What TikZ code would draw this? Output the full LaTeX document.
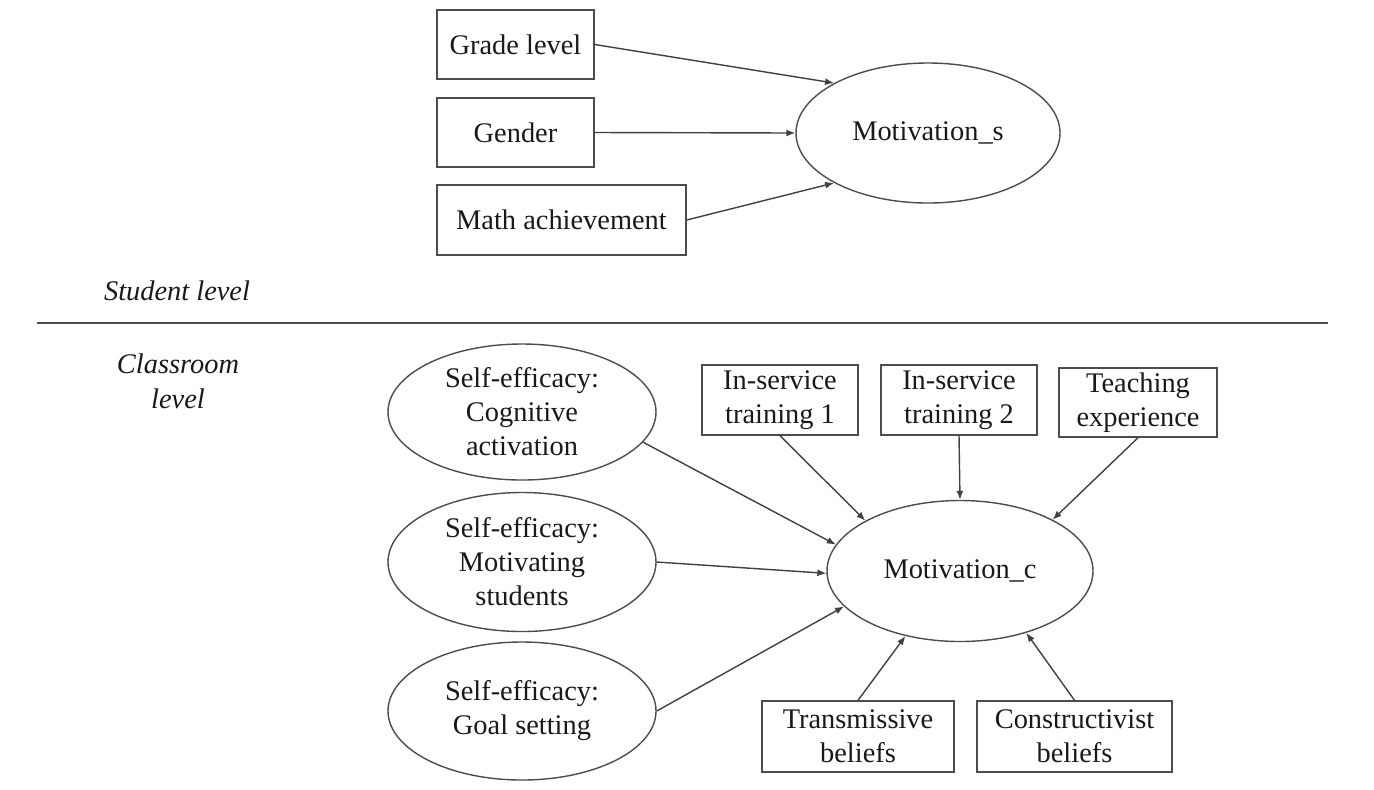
\documentclass[tikz,border=0pt]{standalone}
\usepackage{fontspec}
\setmainfont{Liberation Serif}
\usetikzlibrary{shapes.geometric,arrows.meta}
\begin{document}
\begin{tikzpicture}[x=0.5pt,y=-0.5pt,
  every node/.style={font=\fontsize{14.2}{17}\selectfont, text=black!90},
  boxnode/.style={draw=black!70, line width=0.7pt, rectangle, inner sep=0pt, align=center},
  ellnode/.style={draw=black!70, line width=0.7pt, ellipse, inner sep=0pt},
  conn/.style={draw=black!75, line width=0.7pt, -{Latex[length=4.5pt,width=3.5pt]}},
  levellabel/.style={font=\fontsize{14.2}{17.5}\selectfont\itshape, align=center}]
\useasboundingbox (0,0) rectangle (1374,789);
% student level
\node[boxnode, minimum width=78.5pt, minimum height=34.5pt] (grade) at (515.5,44.5) {Grade level};
\node[boxnode, minimum width=78.5pt, minimum height=34.5pt] (gender) at (515.5,132.5) {Gender};
\node[boxnode, minimum width=124.5pt, minimum height=35pt] (math) at (561.5,220) {Math achievement};
\node[ellnode, minimum width=132pt, minimum height=70pt] (ms) at (928,133) {Motivation\_s};
\draw[conn] (grade.east) -- (ms.152);
\draw[conn] (gender.east) -- (ms.west);
\draw[conn] (math.east) -- (ms.208);
% levels
\node[levellabel] (stud) at (177,291) {Student level};
\coordinate (lineL) at (37,323);
\coordinate (lineR) at (1328,323);
\draw[black!70, line width=0.8pt] (lineL) -- (lineR);
\node[levellabel] (class) at (178,381) {Classroom\\level};
% classroom level
\node[ellnode, minimum width=134pt, minimum height=68pt,
  label={[align=center]center:Self-efficacy:\\Cognitive\\activation}] (e1) at (522,412) {};
\node[ellnode, minimum width=134pt, minimum height=69.5pt,
  label={[align=center]center:Self-efficacy:\\Motivating\\students}] (e2) at (522,562) {};
\node[ellnode, minimum width=134pt, minimum height=69pt,
  label={[align=center]center:Self-efficacy:\\Goal setting}] (e3) at (522,711) {};
\node[boxnode, minimum width=78pt, minimum height=35pt] (ist1) at (780,400) {In-service\\training 1};
\node[boxnode, minimum width=78pt, minimum height=35pt] (ist2) at (959,400) {In-service\\training 2};
\node[boxnode, minimum width=79pt, minimum height=34.5pt] (teach) at (1138,402.5) {Teaching\\experience};
\node[ellnode, minimum width=133pt, minimum height=70.5pt] (mc) at (960,571) {Motivation\_c};
\node[boxnode, minimum width=96pt, minimum height=35.5pt] (trans) at (858,736.5) {Transmissive\\beliefs};
\node[boxnode, minimum width=97.5pt, minimum height=35.5pt] (constr) at (1074.5,736.5) {Constructivist\\beliefs};
\draw[conn] (e1.-14) -- (mc.168);
\draw[conn] (e2.east) -- (mc.181);
\draw[conn] (e3.east) -- (mc.197);
\draw[conn] (ist1.south) -- (mc.152);
\draw[conn] (ist2.south) -- (mc.north);
\draw[conn] (teach.south) -- (mc.29);
\draw[conn] (trans.north) -- (mc.230);
\draw[conn] (constr.north) -- (mc.317);
\end{tikzpicture}
\end{document}
